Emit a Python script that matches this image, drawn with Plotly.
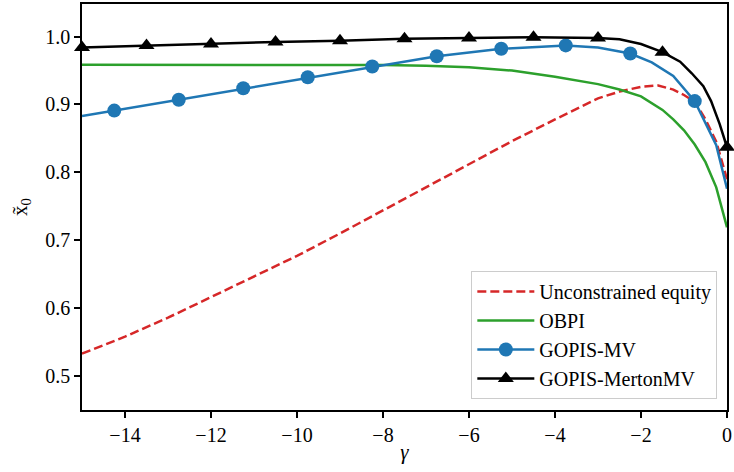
import plotly.graph_objects as go

# ---- data ----
gamma_red = [-15, -14, -13, -12, -11, -10, -9, -8, -7, -6, -5, -4, -3, -2.5, -2, -1.6, -1.25, -1.0, -0.75, -0.5, -0.25, 0]
x0_red = [0.533, 0.558, 0.586, 0.616, 0.646, 0.677, 0.710, 0.744, 0.779, 0.812, 0.846, 0.878, 0.909, 0.919, 0.926, 0.928, 0.922, 0.914, 0.904, 0.878, 0.845, 0.790]

gamma_green = [-15, -12, -10, -8, -7, -6, -5, -4, -3, -2.5, -2, -1.5, -1.25, -1.0, -0.75, -0.5, -0.25, 0]
x0_green = [0.9585, 0.9585, 0.9585, 0.958, 0.957, 0.955, 0.950, 0.941, 0.930, 0.922, 0.912, 0.892, 0.878, 0.862, 0.841, 0.815, 0.778, 0.719]

gamma_blue = [-15, -14.25, -12.75, -11.25, -9.75, -8.25, -6.75, -5.25, -4.5, -3.75, -3, -2.25, -1.75, -1.25, -0.75, -0.5, -0.25, 0]
x0_blue = [0.883, 0.891, 0.907, 0.924, 0.940, 0.956, 0.971, 0.982, 0.985, 0.987, 0.984, 0.975, 0.962, 0.942, 0.905, 0.873, 0.840, 0.776]
blue_marker_gamma = [-14.25, -12.75, -11.25, -9.75, -8.25, -6.75, -5.25, -3.75, -2.25, -0.75]

gamma_black = [-15, -13.5, -12, -10.5, -9, -7.5, -6, -4.5, -3, -2.5, -2, -1.5, -1.09, -0.82, -0.55, -0.37, -0.17, 0]
x0_black = [0.984, 0.987, 0.989, 0.992, 0.994, 0.997, 0.998, 0.999, 0.998, 0.996, 0.989, 0.977, 0.963, 0.946, 0.927, 0.905, 0.871, 0.837]
black_marker_gamma = [-15, -13.5, -12, -10.5, -9, -7.5, -6, -4.5, -3, -1.5, 0]

x_ticks = [-14, -12, -10, -8, -6, -4, -2, 0]
y_ticks = [0.5, 0.6, 0.7, 0.8, 0.9, 1.0]

names = ["Unconstrained equity", "OBPI", "GOPIS-MV", "GOPIS-MertonMV"]
RED, GREEN, BLUE, BLACK = "#d62728", "#2ca02c", "#1f77b4", "#000000"
LW = 2.5
FONT = "Liberation Serif"


def subset(gs, vs, keep):
    xs, ys = [], []
    for g, v in zip(gs, vs):
        if any(abs(g - k) < 1e-9 for k in keep):
            xs.append(g)
            ys.append(v)
    return xs, ys


fig = go.Figure()

fig.add_trace(go.Scatter(x=gamma_red, y=x0_red, mode="lines", name=names[0],
                         line=dict(color=RED, width=LW, dash="9px,4px"), showlegend=True))
fig.add_trace(go.Scatter(x=gamma_green, y=x0_green, mode="lines", name=names[1],
                         line=dict(color=GREEN, width=LW), showlegend=True))

# blue
fig.add_trace(go.Scatter(x=gamma_blue, y=x0_blue, mode="lines", line=dict(color=BLUE, width=LW),
                         showlegend=False, legendgroup="b"))
bx, by = subset(gamma_blue, x0_blue, blue_marker_gamma)
fig.add_trace(go.Scatter(x=bx, y=by, mode="markers", marker=dict(color=BLUE, size=14, symbol="circle"),
                         showlegend=False, legendgroup="b"))
fig.add_trace(go.Scatter(x=[None], y=[None], mode="lines+markers", name=names[2], legendgroup="b",
                         line=dict(color=BLUE, width=LW), marker=dict(color=BLUE, size=14, symbol="circle")))

# black
fig.add_trace(go.Scatter(x=gamma_black, y=x0_black, mode="lines", line=dict(color=BLACK, width=LW),
                         showlegend=False, legendgroup="k"))
kx, ky = subset(gamma_black, x0_black, black_marker_gamma)
fig.add_trace(go.Scatter(x=kx, y=ky, mode="markers", marker=dict(color=BLACK, size=14, symbol="triangle-up"),
                         showlegend=False, legendgroup="k", cliponaxis=False))
fig.add_trace(go.Scatter(x=[None], y=[None], mode="lines+markers", name=names[3], legendgroup="k",
                         line=dict(color=BLACK, width=LW), marker=dict(color=BLACK, size=14, symbol="triangle-up")))

axis_common = dict(showline=True, linecolor="black", linewidth=1.5, mirror=True, ticks="outside",
                   ticklen=6, tickwidth=1.5, tickcolor="black", showgrid=False, zeroline=False,
                   tickfont=dict(family=FONT, size=20, color="black"))

fig.update_xaxes(range=[-15, 0], tickvals=x_ticks,
                 title=dict(text="<i>γ</i>", font=dict(family=FONT, size=21, color="black"), standoff=0),
                 **axis_common)
fig.update_yaxes(range=[0.45, 1.048], tickvals=y_ticks, tickformat=".1f",
                 title=dict(text="x̃<sub>0</sub>", font=dict(family=FONT, size=21, color="black"), standoff=12),
                 **axis_common)

fig.update_layout(
    width=734, height=472,
    margin=dict(l=82, r=5, t=2, b=62),
    paper_bgcolor="white", plot_bgcolor="white",
    font=dict(family=FONT, size=20, color="black"),
    legend=dict(x=0.985, y=0.027, xanchor="right", yanchor="bottom", bgcolor="rgba(255,255,255,0.8)",
                bordercolor="#cccccc", borderwidth=1, font=dict(family=FONT, size=20, color="black"),
                tracegroupgap=0, itemwidth=57),
)

fig.write_html("out.html")
